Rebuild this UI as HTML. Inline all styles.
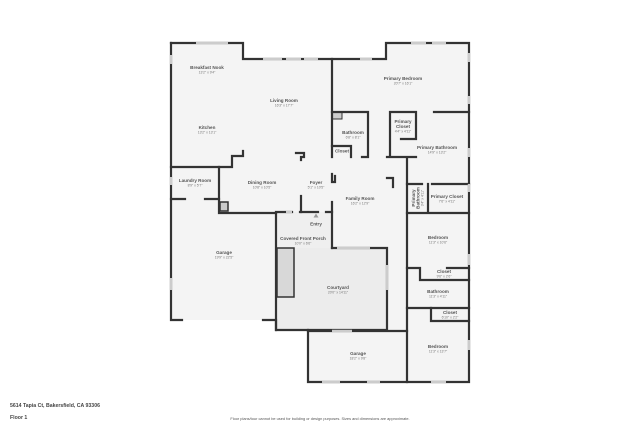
<!DOCTYPE html>
<html><head><meta charset="utf-8"><style>
html,body{margin:0;padding:0;background:#fff;}
svg{display:block;}
text{font-family:"Liberation Sans",sans-serif;fill:#555;text-anchor:middle;}
.n{font-size:4.6px;font-weight:bold;}
.d{font-size:3.4px;fill:#777;}
</style></head><body>
<svg width="640" height="427" viewBox="0 0 640 427" xmlns="http://www.w3.org/2000/svg">
<rect width="640" height="427" fill="#fff"/>
<!-- floor fills -->
<path d="M171,43H243V59H386V43H469V382H308V330H276V320H171Z" fill="#f4f4f4"/>
<rect x="276" y="248" width="111" height="82" fill="#ececec"/>
<rect x="276" y="212" width="56" height="36" fill="#efefef"/>
<rect x="277" y="248" width="17" height="49" fill="#d8d8d8" stroke="#333" stroke-width="1.5"/>
<rect x="332" y="112" width="10" height="7" fill="#ccc" stroke="#333" stroke-width="1"/>
<g fill="none" stroke="#333" stroke-width="2.2" stroke-linecap="square">
<!-- outer -->
<path d="M171,43H243V59H386V43H469V382H308V330"/>
<path d="M171,43V320H182M263,320H276V330H387V248H332"/>
<path d="M276,213V330"/>
<path d="M308,331H407"/>
<!-- interior left -->
<path d="M171,167H232V156H243V151"/>
<path d="M219,167V213H276"/>
<path d="M171,199H185M205,199H219"/>
<rect x="220" y="202" width="8" height="9" fill="#ccc" stroke-width="1.5"/>
<path d="M276,212H292M300,212H318M326,212H332"/>
<path d="M301,196V212"/>
<path d="M332,202V248"/>
<!-- middle -->
<path d="M332,59V157"/>
<path d="M332,112H368V157H362"/>
<path d="M332,146H351V157"/>
<path d="M390,112H416V139H401M390,112V157M387,157H416M407,157V382"/>
<path d="M434,112H469"/>
<path d="M407,184H422M432,184H469"/>
<path d="M428,184V212"/>
<path d="M407,213H469"/>
<path d="M407,268H420V280H469M447,268H469"/>
<path d="M407,308H469"/>
<path d="M431,308V321H469"/>
<path d="M296,153H304V157H301V160"/>
<path d="M332,174V182H335V176"/>
<path d="M387,178H393V187"/>
</g>
<!-- windows -->
<g stroke="#ccc" stroke-width="2.4">
<path d="M196,43H228M263,59H282M286,59H301M304,59H318M360,59H372M411,43H426M432,43H446M171,55V64M171,177V185M469,53V62M469,96V104M469,148V157M469,254V265M469,340V350M469,184V192M322,382H340M367,382H380M431,382H446M332,331H352M387,265V290M286,212H292M337,248H370M171,278V290"/>
</g>
<polygon points="316,213.5 313.5,217.5 318.5,217.5" fill="#999"/>
<!-- labels -->
<text class="n" x="207" y="69">Breakfast Nook</text><text class="d" x="207" y="73.5">13'2" x 9'4"</text>
<text class="n" x="284" y="102">Living Room</text><text class="d" x="284" y="106.5">16'3" x 17'7"</text>
<text class="n" x="207" y="129">Kitchen</text><text class="d" x="207" y="133.5">13'2" x 13'1"</text>
<text class="n" x="403" y="80">Primary Bedroom</text><text class="d" x="403" y="84.5">20'7" x 16'1"</text>
<text class="n" x="353" y="134">Bathroom</text><text class="d" x="353" y="138.5">6'8" x 8'1"</text>
<text class="n" x="403" y="123">Primary</text><text class="n" x="403" y="128">Closet</text><text class="d" x="403" y="132.5">4'4" x 4'11"</text>
<text class="n" x="342" y="152.5">Closet</text>
<text class="n" x="437" y="149">Primary Bathroom</text><text class="d" x="437" y="153.5">14'9" x 13'2"</text>
<text class="n" x="195" y="182">Laundry Room</text><text class="d" x="195" y="186.5">8'9" x 5'7"</text>
<text class="n" x="262" y="184">Dining Room</text><text class="d" x="262" y="188.5">10'8" x 10'5"</text>
<text class="n" x="316" y="184">Foyer</text><text class="d" x="316" y="188.5">5'1" x 10'5"</text>
<text class="n" x="360" y="200">Family Room</text><text class="d" x="360" y="204.5">16'2" x 12'9"</text>
<text class="n" x="447" y="198">Primary Closet</text><text class="d" x="447" y="202.5">7'6" x 4'11"</text>
<g transform="translate(416,198) rotate(-90)"><text class="n" x="0" y="-1">Primary</text><text class="n" x="0" y="3.5">Bathroom</text><text class="d" x="0" y="7.5">3'4" x 4'11"</text></g>
<text class="n" x="316" y="225.5">Entry</text>
<text class="n" x="303" y="240">Covered Front Porch</text><text class="d" x="303" y="244.5">10'0" x 6'6"</text>
<text class="n" x="224" y="254">Garage</text><text class="d" x="224" y="258.5">19'9" x 22'5"</text>
<text class="n" x="438" y="239">Bedroom</text><text class="d" x="438" y="243.5">11'3" x 10'6"</text>
<text class="n" x="444" y="273">Closet</text><text class="d" x="444" y="277.5">9'6" x 2'6"</text>
<text class="n" x="338" y="289">Courtyard</text><text class="d" x="338" y="293.5">20'0" x 14'11"</text>
<text class="n" x="438" y="293">Bathroom</text><text class="d" x="438" y="297.5">11'3" x 4'11"</text>
<text class="n" x="450" y="314">Closet</text><text class="d" x="450" y="318.5">6'10" x 2'2"</text>
<text class="n" x="358" y="355">Garage</text><text class="d" x="358" y="359.5">18'2" x 9'8"</text>
<text class="n" x="438" y="348">Bedroom</text><text class="d" x="438" y="352.5">11'3" x 13'7"</text>
<text x="10" y="407" style="font-size:5.2px;font-weight:bold;text-anchor:start;fill:#444">5614 Tapia Ct, Bakersfield, CA 93306</text>
<text x="10" y="419" style="font-size:5.2px;font-weight:bold;text-anchor:start;fill:#444">Floor 1</text>
<text x="320" y="420" style="font-size:3.9px;fill:#555">Floor plans/tour cannot be used for building or design purposes. Sizes and dimensions are approximate.</text>
</svg>
</body></html>
